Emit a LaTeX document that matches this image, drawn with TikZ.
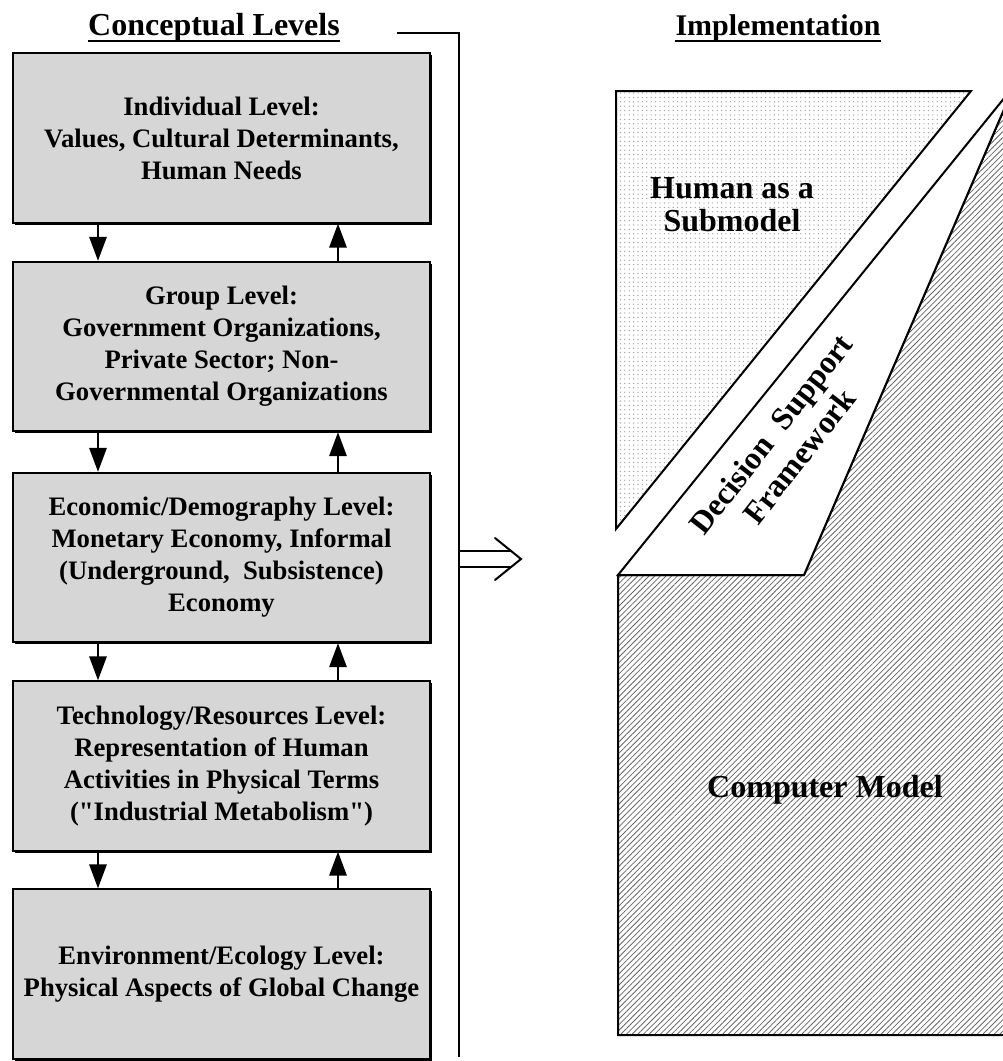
\documentclass[tikz,border=0pt]{standalone}
\usepackage{fontspec}
\setmainfont{Liberation Serif}[Ligatures=TeXOff]
\usetikzlibrary{arrows.meta,patterns.meta,shadows}
\begin{document}
\begin{tikzpicture}[x=0.75pt,y=-0.75pt,
  lvl/.style={draw, line width=1.5pt, fill=black!16, minimum width=312.75pt,
    minimum height=127pt, inner sep=0pt, align=center,
    font=\fontsize{20}{24}\selectfont\bfseries,
    drop shadow={shadow xshift=1.6pt, shadow yshift=-1.6pt, opacity=1, fill=black}},
  flow/.style={line width=1.5pt, -{Triangle[length=18pt,width=13pt]}},
  hdr/.style={font=\fontsize{24}{28}\selectfont\bfseries, inner sep=0pt, anchor=base},
  big/.style={font=\fontsize{24}{25}\selectfont\bfseries, align=center, inner sep=0pt},
  outline/.style={line width=1.5pt, line join=miter},
  uline/.style={line width=1.5pt}
]
\useasboundingbox (0,0) rectangle (1003,1061);

% headers
\node[hdr] (hcl) at (214,35) {Conceptual Levels};
\draw[uline] ([yshift=-4.5pt]hcl.base west) -- ([yshift=-4.5pt]hcl.base east);
\node[hdr, font=\fontsize{22.5}{26}\selectfont\bfseries] (himp) at (778,35) {Implementation};
\draw[uline] ([yshift=-4.5pt]himp.base west) -- ([yshift=-4.5pt]himp.base east);

% level boxes
\node[lvl] (b1) at (221.5,138) {Individual Level:\\Values, Cultural Determinants,\\Human Needs};
\node[lvl] (b2) at (221.5,346.5) {Group Level:\\Government Organizations,\\Private Sector; Non-\\Governmental Organizations};
\node[lvl] (b3) at (221.5,557.5) {Economic/Demography Level:\\Monetary Economy, Informal\\(Underground,\ \ Subsistence)\\Economy};
\node[lvl] (b4) at (221.5,766) {Technology/Resources Level:\\Representation of Human\\Activities in Physical Terms\\("Industrial Metabolism")};
\node[lvl] (b5) at (221.5,974) {Environment/Ecology Level:\\Physical Aspects of Global Change};

% flow arrows between levels
\coordinate (dx) at (98,0);
\coordinate (ux) at (338,0);
\foreach \a/\b in {b1/b2,b2/b3,b3/b4,b4/b5}{
  \draw[flow] (\a.south -| dx) -- (\b.north -| dx);
  \draw[flow] (\b.north -| ux) -- (\a.south -| ux);
}

% bracket
\coordinate (brS) at (397,33);
\coordinate (brC) at (459,33);
\coordinate (brE) at (459,1057);
\draw[outline] (brS) -- (brC) -- (brE);

% hollow arrow
\coordinate (haT0) at (459,551);
\coordinate (haT1) at (511,551);
\coordinate (haB0) at (459,567);
\coordinate (haB1) at (511,567);
\coordinate (haW1) at (495,538);
\coordinate (haTip) at (521,559);
\coordinate (haW2) at (495,580);
\draw[outline] (haT0) -- (haT1);
\draw[outline] (haB0) -- (haB1);
\draw[outline, line cap=round] (haW1) -- (haTip) -- (haW2);

% implementation side
\begin{scope}
\clip (0,0) rectangle (1003,1061);
\coordinate (hTL) at (616,91);
\coordinate (hTR) at (971,91);
\coordinate (hBL) at (616,529);
\draw[outline, fill=white, pattern={Dots[distance=3.3pt,radius=0.5pt]}, pattern color=black!40]
  (hTL) -- (hTR) -- (hBL) -- cycle;
\coordinate (apex) at (1014,86);
\coordinate (wL) at (618,575);
\coordinate (wR) at (804,575);
\coordinate (cBR) at (1014,1035);
\coordinate (cBL) at (618,1035);
\draw[outline, pattern={Lines[angle=45,distance=3pt,line width=0.6pt]}, pattern color=black!60]
  (wL) -- (wR) -- (apex) -- (cBR) -- (cBL) -- cycle;
\draw[outline, fill=white] (wL) -- (wR) -- (apex) -- cycle;
\end{scope}

\node[big] (hum) at (732,205) {Human as a\\Submodel};
\node[big, anchor=base] (cm) at (825,797) {Computer Model};
\node[font=\fontsize{24}{27}\selectfont\bfseries, align=center, rotate=52, inner sep=0pt]
  (dsf) at (785,445) {Decision\ \ Support\\Framework};
\end{tikzpicture}
\end{document}
